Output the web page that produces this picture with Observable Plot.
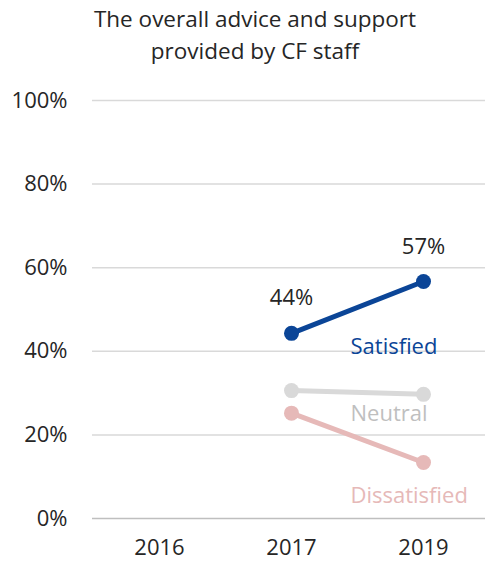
<!DOCTYPE html>
<html>
<head>
<meta charset="utf-8">
<script src="https://cdn.jsdelivr.net/npm/d3@7"></script>
<script src="https://cdn.jsdelivr.net/npm/@observablehq/plot@0.6"></script>
<style>
  body { margin: 0; background: #fff; font-family: "Open Sans", sans-serif; }
  #title { width: 485px; height: 70px; box-sizing: border-box; padding-left: 25px; text-align: center; font-size: 22.5px; line-height: 32px; color: #262626; padding-top: 3px; white-space: nowrap; }
</style>
</head>
<body>
<div id="title">The overall advice and support<br>provided by CF staff</div>
<div id="chart"></div>
<script>
const years = ["2016", "2017", "2019"];
const yTicks = [0, 0.2, 0.4, 0.6, 0.8, 1.0];
const satisfied = [null, 0.443, 0.567];
const neutral = [null, 0.306, 0.297];
const dissatisfied = [null, 0.252, 0.134];
const seriesNames = ["Satisfied", "Neutral", "Dissatisfied"];
const seriesColors = ["#0b4597", "#d9d9d9", "#e6b9b8"];
const labelColors = ["#0b4597", "#bfbfbf", "#e6b9b8"];
const seriesValues = [satisfied, neutral, dissatisfied];
const labelValues = [0.41, 0.25, 0.055];

const rows = [];
seriesNames.forEach((s, i) => {
  years.forEach((y, j) => {
    if (seriesValues[i][j] != null) rows.push({series: s, year: y, value: seriesValues[i][j], color: seriesColors[i]});
  });
});
const satRows = rows.filter(d => d.series === "Satisfied");
const nameRows = seriesNames.map((s, i) => ({series: s, year: "2019", value: labelValues[i], color: labelColors[i]}));

const chart = Plot.plot({
  width: 485,
  height: 496,
  marginLeft: 92,
  marginRight: 0,
  marginTop: 30,
  marginBottom: 48,
  style: {fontFamily: "Open Sans, sans-serif", fontSize: "22px", color: "#262626"},
  x: {type: "point", domain: years, range: [158, 423], padding: 0, label: null, tickSize: 0, tickPadding: 21},
  y: {domain: [0, 1], ticks: yTicks, tickFormat: d => Math.round(d * 100) + "%", label: null, tickSize: 0, tickPadding: 25},
  marks: [
    Plot.ruleY(yTicks.slice(1), {stroke: "#d9d9d9", strokeWidth: 1.5}),
    Plot.ruleY([0], {stroke: "#bfbfbf", strokeWidth: 1.5}),
    Plot.line(rows, {x: "year", y: "value", z: "series", stroke: "color", strokeWidth: 5}),
    Plot.dot(rows, {x: "year", y: "value", fill: "color", r: 7.5}),
    Plot.text(satRows, {x: "year", y: "value", text: d => Math.round(d.value * 100) + "%", dy: -35, fill: "#262626", fontSize: 22}),
    Plot.text(nameRows, {x: "year", y: "value", text: "series", fill: "color", textAnchor: "start", dx: -73, fontSize: 22})
  ]
});
document.getElementById("chart").appendChild(chart);
</script>
</body>
</html>
